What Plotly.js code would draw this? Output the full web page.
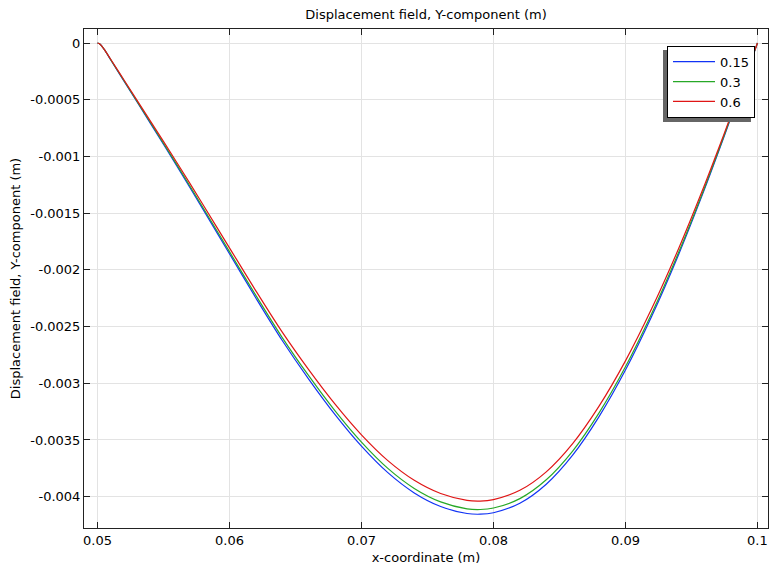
<!DOCTYPE html>
<html>
<head>
<meta charset="utf-8">
<script src="https://cdn.plot.ly/plotly-3.0.1.min.js"></script>
<style>html,body{margin:0;padding:0;background:#fff;}#chart{width:769px;height:569px;}</style>
</head>
<body>
<div id="chart"></div>
<script>
// x-coordinate (m)
const xCoord = [0.05, 0.0502, 0.0505, 0.051, 0.052, 0.054, 0.056, 0.058, 0.06, 0.062, 0.064, 0.066, 0.068, 0.07, 0.072, 0.074, 0.076, 0.078, 0.079, 0.08, 0.082, 0.084, 0.086, 0.088, 0.09, 0.092, 0.094, 0.096, 0.097, 0.098, 0.099, 0.1];
// Displacement field, Y-component (m), one array per parameter value
const disp015 = [0, -0.0000106, -0.0000547, -0.0001474, -0.0003336, -0.0007061, -0.0010812, -0.0014669, -0.0018579, -0.002248, -0.0026231, -0.002963, -0.0032763, -0.0035543, -0.0037882, -0.0039665, -0.0040865, -0.0041483, -0.0041545, -0.0041412, -0.0040574, -0.0038897, -0.0036337, -0.0032939, -0.0028835, -0.0024069, -0.0018729, -0.001286, -0.0009744, -0.0006549, -0.0003301, 0];
const disp03 = [0, -0.0000105, -0.0000542, -0.0001459, -0.0003303, -0.000699, -0.0010704, -0.0014522, -0.0018393, -0.0022255, -0.0025969, -0.0029334, -0.0032435, -0.0035188, -0.0037503, -0.0039268, -0.0040456, -0.0041068, -0.004113, -0.0040998, -0.0040168, -0.0038508, -0.0035974, -0.003261, -0.0028547, -0.0023828, -0.0018542, -0.0012731, -0.0009647, -0.0006484, -0.0003268, 0];
const disp06 = [0, -0.0000103, -0.0000532, -0.0001433, -0.0003243, -0.0006863, -0.0010509, -0.0014258, -0.0018059, -0.0021851, -0.0025497, -0.00288, -0.0031846, -0.0034548, -0.0036821, -0.0038554, -0.0039721, -0.0040321, -0.0040382, -0.0040252, -0.0039438, -0.0037808, -0.003532, -0.0032017, -0.0028028, -0.0023395, -0.0018205, -0.00125, -0.0009471, -0.0006366, -0.0003209, 0];
const seriesNames = ['0.15', '0.3', '0.6'];
const xTickVals = [0.05, 0.06, 0.07, 0.08, 0.09, 0.1];
const xTickText = ['0.05', '0.06', '0.07', '0.08', '0.09', '0.1'];
const yTickVals = [0, -0.0005, -0.001, -0.0015, -0.002, -0.0025, -0.003, -0.0035, -0.004];
const yTickText = ['0', '-0.0005', '-0.001', '-0.0015', '-0.002', '-0.0025', '-0.003', '-0.0035', '-0.004'];

const colors = ['#1133f5', '#27a827', '#e01515'];
const ys = [disp015, disp03, disp06];
const traces = ys.map((y, i) => ({
  x: xCoord, y: y, type: 'scatter', mode: 'lines', name: seriesNames[i],
  line: {color: colors[i], width: 1.2, shape: 'spline', smoothing: 0.9}
}));

const fnt = {family: 'DejaVu Sans, sans-serif', size: 13, color: '#000'};
const axisCommon = {
  showline: true, linecolor: '#222', linewidth: 1, mirror: 'ticks',
  ticks: 'inside', ticklen: 6, tickcolor: '#222', tickwidth: 1,
  showgrid: true, gridcolor: '#e3e3e3', gridwidth: 1, zeroline: false,
  tickmode: 'array', tickfont: fnt
};
const layout = {
  width: 769, height: 569,
  margin: {l: 84, r: 1, t: 29, b: 41},
  paper_bgcolor: '#fff', plot_bgcolor: '#fff',
  font: fnt,
  title: {text: 'Displacement field, Y-component (m)', font: fnt, x: 0.554, xanchor: 'center', y: 0.974, yanchor: 'middle'},
  xaxis: Object.assign({}, axisCommon, {
    range: [0.04898, 0.1008], tickvals: xTickVals, ticktext: xTickText,
    title: {text: 'x-coordinate (m)', font: fnt, standoff: 6}
  }),
  yaxis: Object.assign({}, axisCommon, {
    range: [-0.004276, 0.0001236], tickvals: yTickVals, ticktext: yTickText,
    title: {text: 'Displacement field, Y-component (m)', font: fnt, standoff: 6}
  }),
  showlegend: true,
  legend: {
    x: 0.981, xanchor: 'right', y: 0.9665, yanchor: 'top',
    bgcolor: '#fff', bordercolor: '#000', borderwidth: 1, font: fnt,
    itemwidth: 42, tracegroupgap: 0
  },
  shapes: [{
    type: 'rect', xref: 'paper', yref: 'paper',
    x0: 0.8465, x1: 0.9751, y0: 0.8136, y1: 0.958,
    fillcolor: '#666', line: {width: 0}, layer: 'above'
  }]
};
Plotly.newPlot('chart', traces, layout, {displayModeBar: false, staticPlot: true});
</script>
</body>
</html>
